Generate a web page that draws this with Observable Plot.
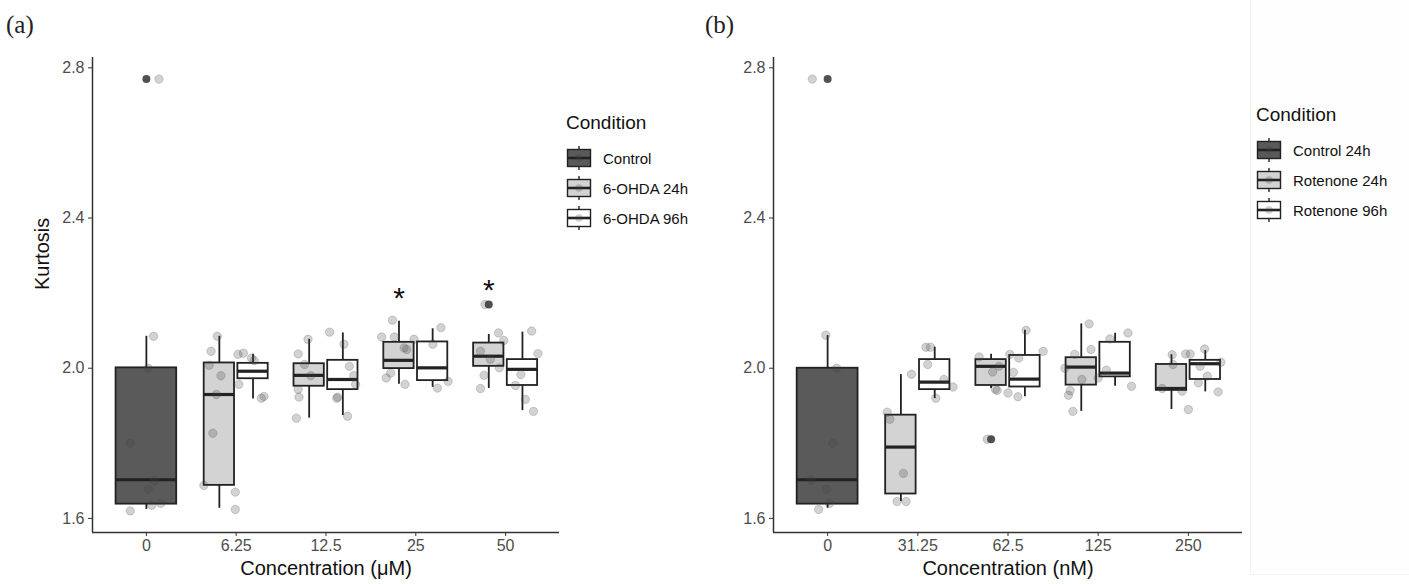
<!DOCTYPE html>
<html><head><meta charset="utf-8">
<script src="https://cdn.jsdelivr.net/npm/d3@7"></script>
<script src="https://cdn.jsdelivr.net/npm/@observablehq/plot@0.6"></script>
<style>
body{margin:0;background:#fff;font-family:"Liberation Sans",Arial,sans-serif;}
#root{position:relative;width:1409px;height:584px;overflow:hidden;background:#fff}
.panel{position:absolute;top:0}
.tag{position:absolute;font-family:"Liberation Serif","DejaVu Serif",serif;font-size:25px;line-height:1;color:#222}
.legend{position:absolute;color:#111}
.legend .title{font-size:19px;line-height:19px;height:19px}
.legend .row{display:flex;align-items:center;height:30px}
.legend .row svg{display:block}
.legend .row span{font-size:15px;margin-left:11px}
</style></head><body><div id="root"></div>
<script>
// ---------- data ----------
const yTicks = [1.6, 2.0, 2.4, 2.8];
const fills = ["#5a5a5a", "#d3d3d3", "#ffffff"];

// Panel (a)
const concA = ["0", "6.25", "12.5", "25", "50"];
const condA = ["Control", "6-OHDA 24h", "6-OHDA 96h"];
// conc, condition, lower whisker, Q1, median, Q3, upper whisker
const boxA = [
  ["0", "Control", 1.624, 1.638, 1.703, 2.001, 2.085],
  ["6.25", "6-OHDA 24h", 1.627, 1.688, 1.930, 2.014, 2.085],
  ["6.25", "6-OHDA 96h", 1.918, 1.972, 1.992, 2.013, 2.037],
  ["12.5", "6-OHDA 24h", 1.867, 1.952, 1.981, 2.012, 2.077],
  ["12.5", "6-OHDA 96h", 1.874, 1.943, 1.970, 2.021, 2.094],
  ["25", "6-OHDA 24h", 1.957, 1.999, 2.021, 2.069, 2.125],
  ["25", "6-OHDA 96h", 1.949, 1.967, 2.001, 2.070, 2.105],
  ["50", "6-OHDA 24h", 1.946, 2.005, 2.032, 2.067, 2.090],
  ["50", "6-OHDA 96h", 1.887, 1.954, 1.997, 2.023, 2.096]
];
const outA = [["0", "Control", 2.77], ["50", "6-OHDA 24h", 2.17]];
// conc, condition, value, horizontal jitter (category units)
const ptsA = [
  ["0","Control",2.77,0.14],["0","Control",2.085,0.08],["0","Control",2.0,0.02],["0","Control",1.80,-0.18],
  ["0","Control",1.70,0.09],["0","Control",1.678,0.02],["0","Control",1.64,0.16],["0","Control",1.635,0.06],["0","Control",1.62,-0.18],
  ["6.25","6-OHDA 24h",2.085,-0.21],["6.25","6-OHDA 24h",2.045,-0.28],["6.25","6-OHDA 24h",2.008,-0.30],["6.25","6-OHDA 24h",1.98,-0.17],
  ["6.25","6-OHDA 24h",1.93,-0.22],["6.25","6-OHDA 24h",1.827,-0.26],["6.25","6-OHDA 24h",1.688,-0.36],["6.25","6-OHDA 24h",1.67,-0.01],["6.25","6-OHDA 24h",1.624,-0.01],
  ["6.25","6-OHDA 96h",2.037,0.02],["6.25","6-OHDA 96h",2.04,0.08],["6.25","6-OHDA 96h",2.027,0.17],["6.25","6-OHDA 96h",2.02,0.20],
  ["6.25","6-OHDA 96h",1.957,0.03],["6.25","6-OHDA 96h",1.92,0.28],["6.25","6-OHDA 96h",1.925,0.31],
  ["12.5","6-OHDA 24h",2.077,-0.20],["12.5","6-OHDA 24h",2.038,-0.31],["12.5","6-OHDA 24h",2.01,-0.24],["12.5","6-OHDA 24h",1.98,-0.17],
  ["12.5","6-OHDA 24h",1.944,-0.31],["12.5","6-OHDA 24h",1.923,-0.30],["12.5","6-OHDA 24h",1.867,-0.33],
  ["12.5","6-OHDA 96h",2.096,0.04],["12.5","6-OHDA 96h",2.064,0.20],["12.5","6-OHDA 96h",2.005,0.26],["12.5","6-OHDA 96h",1.98,0.31],
  ["12.5","6-OHDA 96h",1.957,0.33],["12.5","6-OHDA 96h",1.92,0.12],["12.5","6-OHDA 96h",1.923,0.13],["12.5","6-OHDA 96h",1.872,0.24],
  ["25","6-OHDA 24h",2.128,-0.26],["25","6-OHDA 24h",2.083,-0.38],["25","6-OHDA 24h",2.083,-0.24],["25","6-OHDA 24h",2.054,-0.13],
  ["25","6-OHDA 24h",2.05,-0.10],["25","6-OHDA 24h",1.987,-0.28],["25","6-OHDA 24h",1.974,-0.33],["25","6-OHDA 24h",1.957,-0.12],
  ["25","6-OHDA 96h",2.108,0.28],["25","6-OHDA 96h",2.077,-0.02],["25","6-OHDA 96h",2.064,0.19],["25","6-OHDA 96h",1.965,0.36],["25","6-OHDA 96h",1.947,0.24],
  ["50","6-OHDA 24h",2.17,-0.23],["50","6-OHDA 24h",2.094,-0.08],["50","6-OHDA 24h",2.074,-0.02],["50","6-OHDA 24h",2.045,-0.28],
  ["50","6-OHDA 24h",2.024,-0.17],["50","6-OHDA 24h",2.001,-0.07],["50","6-OHDA 24h",1.981,-0.24],["50","6-OHDA 24h",1.946,-0.28],
  ["50","6-OHDA 96h",2.099,0.29],["50","6-OHDA 96h",2.039,0.36],["50","6-OHDA 96h",1.983,0.17],["50","6-OHDA 96h",1.954,0.11],
  ["50","6-OHDA 96h",1.917,0.22],["50","6-OHDA 96h",1.885,0.31]
];
const starA = [["25", "6-OHDA 24h", 2.209], ["50", "6-OHDA 24h", 2.232]];

// Panel (b)
const concB = ["0", "31.25", "62.5", "125", "250"];
const condB = ["Control 24h", "Rotenone 24h", "Rotenone 96h"];
const boxB = [
  ["0", "Control 24h", 1.627, 1.638, 1.703, 2.000, 2.087],
  ["31.25", "Rotenone 24h", 1.645, 1.665, 1.790, 1.875, 1.983],
  ["31.25", "Rotenone 96h", 1.919, 1.943, 1.963, 2.023, 2.056],
  ["62.5", "Rotenone 24h", 1.946, 1.954, 2.005, 2.023, 2.037],
  ["62.5", "Rotenone 96h", 1.924, 1.950, 1.971, 2.034, 2.101],
  ["125", "Rotenone 24h", 1.885, 1.955, 2.003, 2.028, 2.118],
  ["125", "Rotenone 96h", 1.952, 1.977, 1.987, 2.069, 2.093],
  ["250", "Rotenone 24h", 1.890, 1.941, 1.946, 2.010, 2.036],
  ["250", "Rotenone 96h", 1.937, 1.970, 2.012, 2.021, 2.047]
];
const outB = [["0", "Control 24h", 2.77], ["62.5", "Rotenone 24h", 1.811]];
const ptsB = [
  ["0","Control 24h",2.77,-0.17],["0","Control 24h",2.088,-0.02],["0","Control 24h",2.0,0.10],["0","Control 24h",1.80,0.06],
  ["0","Control 24h",1.703,-0.18],["0","Control 24h",1.678,-0.01],["0","Control 24h",1.64,0.02],["0","Control 24h",1.624,-0.10],
  ["31.25","Rotenone 24h",1.984,-0.07],["31.25","Rotenone 24h",1.883,-0.34],["31.25","Rotenone 24h",1.864,-0.31],
  ["31.25","Rotenone 24h",1.72,-0.16],["31.25","Rotenone 24h",1.645,-0.23],["31.25","Rotenone 24h",1.645,-0.13],
  ["31.25","Rotenone 96h",2.056,0.09],["31.25","Rotenone 96h",2.056,0.14],["31.25","Rotenone 96h",2.01,0.11],
  ["31.25","Rotenone 96h",1.97,0.29],["31.25","Rotenone 96h",1.95,0.39],["31.25","Rotenone 96h",1.92,0.20],
  ["62.5","Rotenone 24h",2.03,-0.32],["62.5","Rotenone 24h",1.99,-0.17],["62.5","Rotenone 24h",1.941,-0.12],
  ["62.5","Rotenone 24h",1.944,-0.14],["62.5","Rotenone 24h",2.005,-0.10],["62.5","Rotenone 24h",1.811,-0.23],
  ["62.5","Rotenone 96h",2.101,0.20],["62.5","Rotenone 96h",2.045,0.39],["62.5","Rotenone 96h",2.037,0.02],["62.5","Rotenone 96h",2.027,0.12],
  ["62.5","Rotenone 96h",1.989,0.06],["62.5","Rotenone 96h",1.934,0.00],["62.5","Rotenone 96h",1.924,0.11],
  ["125","Rotenone 24h",2.118,-0.10],["125","Rotenone 24h",2.05,-0.08],["125","Rotenone 24h",2.037,-0.26],["125","Rotenone 24h",2.0,-0.37],
  ["125","Rotenone 24h",1.97,-0.18],["125","Rotenone 24h",1.94,-0.31],["125","Rotenone 24h",1.928,-0.33],["125","Rotenone 24h",1.885,-0.28],
  ["125","Rotenone 96h",2.094,0.33],["125","Rotenone 96h",2.078,0.13],["125","Rotenone 96h",1.995,0.09],
  ["125","Rotenone 96h",1.952,0.37],["125","Rotenone 96h",1.974,0.00],
  ["250","Rotenone 24h",2.036,-0.18],["250","Rotenone 24h",2.01,-0.17],["250","Rotenone 24h",1.946,-0.29],
  ["250","Rotenone 24h",1.939,-0.07],["250","Rotenone 24h",1.89,0.00],
  ["250","Rotenone 96h",2.038,-0.03],["250","Rotenone 96h",2.038,0.02],["250","Rotenone 96h",2.051,0.18],["250","Rotenone 96h",2.016,0.36],
  ["250","Rotenone 96h",2.005,0.13],["250","Rotenone 96h",1.979,0.21],["250","Rotenone 96h",1.961,0.11],["250","Rotenone 96h",1.937,0.33]
];
const starB = [];

// ---------- drawing ----------
const FONT = "Liberation Sans, Arial, sans-serif";
const INK = "#222";

function layoutBoxes(concs, rows) {
  return rows.map(([conc, cond, lo, q1, med, q3, hi]) => {
    const same = rows.filter(r => r[0] === conc);
    const n = same.length, i = same.findIndex(r => r[1] === cond);
    const slot = 0.75 / n;                // dodge width 0.75
    const xc = concs.indexOf(conc) - 0.375 + slot * (i + 0.5);
    const hw = slot * 0.9 / 2;            // dodge padding 0.1
    return {conc, cond, lo, q1, med, q3, hi, xc, xa: xc - hw, xb: xc + hw};
  });
}

function panel(concs, conds, boxRows, outRows, ptRows, starRows, xLabel, yLabel, width) {
  const boxes = layoutBoxes(concs, boxRows);
  const find = (c, g) => boxes.find(b => b.conc === c && b.cond === g);
  const outs = outRows.map(([c, g, v]) => ({x: find(c, g).xc, v}));
  const pts = ptRows.map(([c, g, v, j]) => ({x: concs.indexOf(c) + j, v}));
  const stars = starRows.map(([c, g, v]) => ({x: find(c, g).xc, v}));
  const xd = [-0.6, concs.length - 0.4];
  const yd = [1.5625, 2.8275];
  const marks = [
    Plot.ruleX(boxes, {x: "xc", y1: "lo", y2: "q1", stroke: INK, strokeWidth: 1.8}),
    Plot.ruleX(boxes, {x: "xc", y1: "q3", y2: "hi", stroke: INK, strokeWidth: 1.8}),
    Plot.rect(boxes, {x1: "xa", x2: "xb", y1: "q1", y2: "q3", fill: "cond", stroke: INK, strokeWidth: 1.8}),
    Plot.ruleY(boxes, {y: "med", x1: "xa", x2: "xb", stroke: INK, strokeWidth: 3.2}),
    Plot.dot(outs, {x: "x", y: "v", r: 4, fill: "#333", fillOpacity: 0.85, stroke: "none"}),
    Plot.dot(pts, {x: "x", y: "v", r: 4.2, fill: "#444", fillOpacity: 0.24, stroke: "#444", strokeOpacity: 0.22, strokeWidth: 1}),
    Plot.text(stars, {x: "x", y: "v", text: () => "*", fontSize: 30, fill: "#111", dy: 9}),
    Plot.ruleX([xd[0]], {stroke: "#333", strokeWidth: 1.5}),
    Plot.ruleY([yd[0]], {stroke: "#333", strokeWidth: 1.5}),
    Plot.axisY({ticks: yTicks, tickFormat: d3.format(".1f"), tickSize: 4, tickPadding: 4, fontSize: 16, stroke: "#333", fill: "#4d4d4d", label: null}),
    Plot.axisX({ticks: d3.range(concs.length), tickFormat: i => concs[i], tickSize: 4, tickPadding: 3, fontSize: 16, stroke: "#333", fill: "#4d4d4d", label: null}),
    Plot.text([xLabel], {frameAnchor: "bottom", lineAnchor: "top", dy: 28, fontSize: 20, fill: "#111"})
  ];
  if (yLabel) marks.push(Plot.text([yLabel], {frameAnchor: "left", rotate: -90, dx: -50, dy: -5, fontSize: 20, fill: "#111"}));
  return Plot.plot({
    width, height: 584,
    marginLeft: 92, marginRight: 1, marginTop: 57, marginBottom: 52,
    style: {fontFamily: FONT, background: "transparent", overflow: "visible"},
    x: {type: "linear", domain: xd},
    y: {domain: yd},
    color: {domain: conds, range: fills},
    marks
  });
}

function legend(conds, left, top) {
  const div = document.createElement("div");
  div.className = "legend";
  div.style.left = left + "px";
  div.style.top = top + "px";
  let html = `<div class="title">Condition</div><div style="height:11px"></div>`;
  conds.forEach((c, i) => {
    html += `<div class="row"><svg width="26" height="30">
      <line x1="13" x2="13" y1="3" y2="27" stroke="${INK}" stroke-width="1.4"/>
      <rect x="1.5" y="6.5" width="23" height="17" fill="${fills[i]}" stroke="${INK}" stroke-width="1.4"/>
      <line x1="1.5" x2="24.5" y1="15" y2="15" stroke="${INK}" stroke-width="2.6"/>
      <circle cx="13" cy="15" r="3.8" fill="#444" fill-opacity="0.25"/>
    </svg><span>${c}</span></div>`;
  });
  div.innerHTML = html;
  return div;
}

const root = document.getElementById("root");
const legBg = document.createElement("div");
legBg.style.cssText = "position:absolute;left:1250px;top:0;width:159px;height:574px;background:#fefefe;border-left:1px solid #f3f3f3;border-bottom:1px solid #f3f3f3";
root.appendChild(legBg);

const pa = panel(concA, condA, boxA, outA, ptsA, starA, "Concentration (\u03bcM)", "Kurtosis", 560);
pa.classList.add("panel"); pa.style.left = "0px";
root.appendChild(pa);
const pb = panel(concB, condB, boxB, outB, ptsB, starB, "Concentration (nM)", null, 562);
pb.classList.add("panel"); pb.style.left = "681px";
root.appendChild(pb);

root.appendChild(legend(condA, 566, 113));
root.appendChild(legend(condB, 1256, 105));

const ta = document.createElement("div"); ta.className = "tag"; ta.textContent = "(a)";
ta.style.left = "6px"; ta.style.top = "12px"; root.appendChild(ta);
const tb = document.createElement("div"); tb.className = "tag"; tb.textContent = "(b)";
tb.style.left = "705px"; tb.style.top = "12px"; root.appendChild(tb);
</script></body></html>
